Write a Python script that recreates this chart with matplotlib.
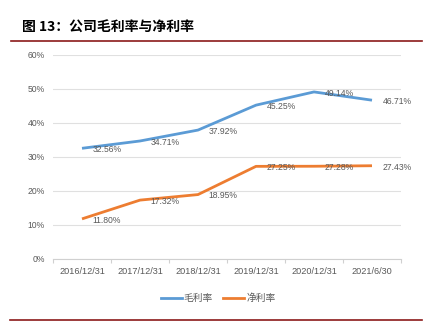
import matplotlib
matplotlib.use("Agg")
import matplotlib.pyplot as plt
from matplotlib.lines import Line2D

plt.rcParams["font.family"] = ["Noto Sans CJK SC", "DejaVu Sans"]

categories = ["2016/12/31", "2017/12/31", "2018/12/31", "2019/12/31", "2020/12/31", "2021/6/30"]
gross_margin = [32.56, 34.71, 37.92, 45.25, 49.14, 46.71]
net_margin = [11.80, 17.32, 18.95, 27.25, 27.28, 27.43]
series_names = ["毛利率", "净利率"]
title = "图 13：公司毛利率与净利率"

BLUE = "#5B9BD5"
ORANGE = "#ED7D31"
GRAY = "#595959"
DARK_RED = "#8B1A1A"

W, H = 426, 333
fig = plt.figure(figsize=(W / 100, H / 100), dpi=100)
ax = fig.add_axes([53 / W, 1 - 259 / H, 348 / W, 204 / H])

x = list(range(len(categories)))
ax.plot(x, gross_margin, color=BLUE, linewidth=2.0, solid_capstyle="butt", zorder=3)
ax.plot(x, net_margin, color=ORANGE, linewidth=2.0, solid_capstyle="butt", zorder=3)

num_font = ["Liberation Sans", "DejaVu Sans"]
for series in (gross_margin, net_margin):
    for xi, v in zip(x, series):
        ax.annotate(f"{v:.2f}%", (xi, v), xytext=(7.5, -1), textcoords="offset points",
                    ha="left", va="center", fontsize=6.2, color=GRAY, family=num_font, zorder=4)

ax.set_xlim(-0.5, len(categories) - 0.5)
ax.set_ylim(0, 60)
ax.set_yticks(range(0, 61, 10))
ax.set_yticklabels([f"{t}%" for t in range(0, 61, 10)], family=num_font, fontsize=6.2, color=GRAY)
ax.set_xticks(x)
ax.set_xticklabels(categories, family=num_font, fontsize=6.6, color=GRAY)
ax.tick_params(axis="both", length=0, pad=6)
ax.set_xticks([i - 0.5 for i in range(len(categories) + 1)], minor=True)
ax.tick_params(axis="x", which="minor", length=3, color="#d0d0d0", width=0.8)
ax.grid(axis="y", color="#e0e0e0", linewidth=0.8)
ax.set_axisbelow(True)
for side in ("top", "right", "left"):
    ax.spines[side].set_visible(False)
ax.spines["bottom"].set_color("#d0d0d0")
ax.spines["bottom"].set_linewidth(0.8)

handles = [Line2D([], [], color=BLUE, linewidth=2.0), Line2D([], [], color=ORANGE, linewidth=2.0)]
fig.legend(handles, series_names, loc="center", bbox_to_anchor=(218 / W, 1 - 298 / H), ncol=2,
           frameon=False, fontsize=7, handlelength=2.2, handletextpad=0.2, columnspacing=1.0,
           labelcolor=GRAY)

fig.text(22 / W, 1 - 28 / H, title, fontsize=10, fontweight="bold", color="black", ha="left", va="center")
fig.add_artist(Line2D([11 / W, 422 / W], [1 - 40.5 / H] * 2, color=DARK_RED, linewidth=1.2))
fig.add_artist(Line2D([10 / W, 422 / W], [1 - 319.5 / H] * 2, color=DARK_RED, linewidth=1.2))

fig.savefig("out.png", dpi=100)
